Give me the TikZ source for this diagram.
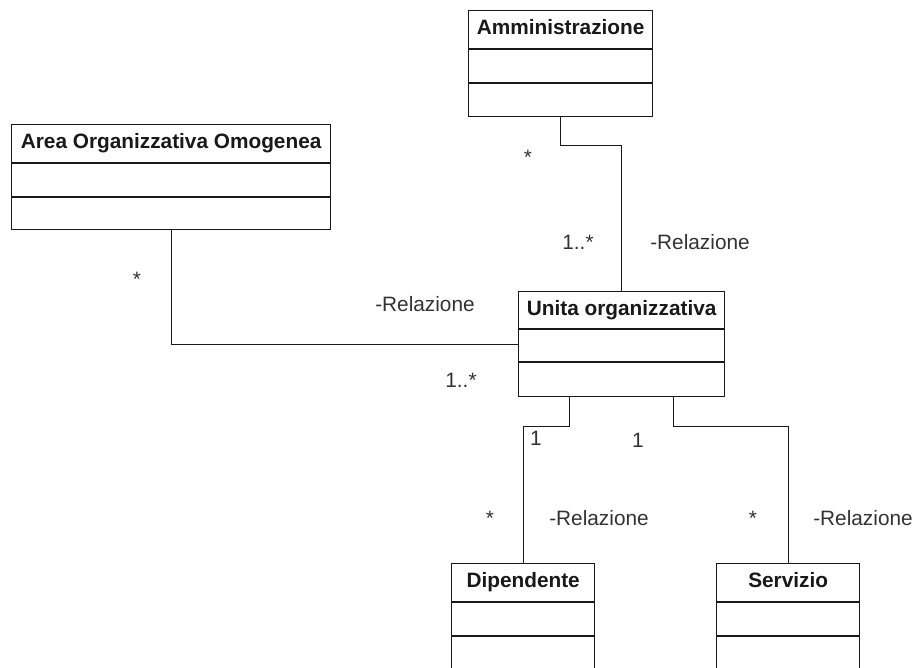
\documentclass[tikz,border=0pt]{standalone}
\usepackage{fontspec}
\setmainfont{Liberation Sans}
\usetikzlibrary{calc}
\newcommand\umlclass[8]{%
  \node[cls, minimum width=#4pt, minimum height=#5pt] (#1) at (#2,#3) {};
  \node[ttl] (#1-t) at ($(#1.north)+(0,24.5)$) {#8};
  \draw[link] ($(#1.north west)+(0,#6)$) -- ($(#1.north east)+(0,#6)$);
  \draw[link] ($(#1.north west)+(0,#7)$) -- ($(#1.north east)+(0,#7)$);
}
\begin{document}
\begin{tikzpicture}[x=1pt,y=-1pt,
  cls/.style={draw=black!90, line width=1.3pt, fill=white, inner sep=0pt, anchor=north west},
  ttl/.style={font=\fontsize{20.8}{24}\selectfont\bfseries, text=black!90, inner sep=0pt, anchor=base},
  lbl/.style={font=\fontsize{20.8}{24}\selectfont, text=black!80, inner sep=0pt, anchor=base},
  link/.style={draw=black!90, line width=1.3pt}]
\useasboundingbox (0,0) rectangle (918,668);
\clip (0,0) rectangle (918,668);
\fill[white] (0,0) rectangle (918,668);

\umlclass{amm}{468}{10}{184}{106}{39}{73}{Amministrazione}
\umlclass{area}{11}{124}{319}{105}{39}{73}{Area Organizzativa Omogenea}
\umlclass{unita}{518}{291}{206}{105}{38}{71}{Unita organizzativa}
\umlclass{dip}{451}{563}{143}{112}{39}{73}{Dipendente}
\umlclass{serv}{716}{563}{143}{112}{39}{73}{Servizio}

\draw[link] (amm.south) -- ++(0,28) -| (unita.north);
\draw[link] (area.south) |- (unita.west);
\draw[link] ($(unita.south west)!0.25!(unita.south east)$) -- ++(0,29) -| (dip.north);
\draw[link] ($(unita.south west)!0.75!(unita.south east)$) -- ++(0,29) -| (serv.north);

\node[lbl] (l1) at (528,165) {*};
\node[lbl] (l2) at (578,250) {1..*};
\node[lbl] (l3) at (700,250) {-Relazione};
\node[lbl] (l4) at (137,287) {*};
\node[lbl] (l5) at (425,312) {-Relazione};
\node[lbl] (l6) at (461,387) {1..*};
\node[lbl] (l7) at (536,445) {1};
\node[lbl] (l8) at (638,447) {1};
\node[lbl] (l9) at (490,525) {*};
\node[lbl] (l10) at (599,525) {-Relazione};
\node[lbl] (l11) at (753,525) {*};
\node[lbl] (l12) at (863,525) {-Relazione};
\end{tikzpicture}
\end{document}
